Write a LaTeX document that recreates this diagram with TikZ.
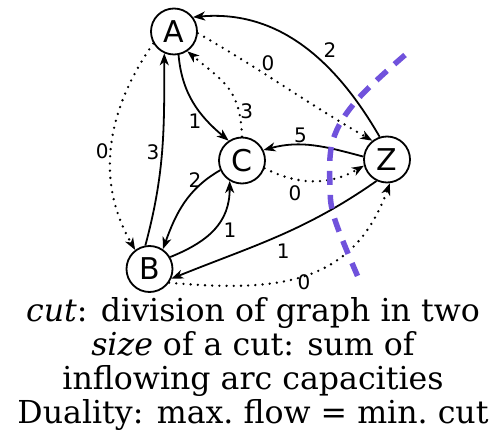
\documentclass[tikz,border=0pt]{standalone}
\usepackage{fontspec}
\setmainfont{DejaVu Serif}
\newfontfamily\lblfont{DejaVu Sans}
\usetikzlibrary{arrows.meta}
\definecolor{cutcol}{HTML}{7052DC}
\begin{document}
\begin{tikzpicture}[x=1pt,y=1pt,
  vert/.style={circle,draw,line width=1.8pt,minimum size=46pt,inner sep=0pt,font=\lblfont\fontsize{30}{30}\selectfont},
  sarc/.style={line width=1.8pt,-{Stealth[length=12pt,width=9pt,inset=3.5pt]}},
  darc/.style={line width=2.6pt,line cap=round,dash pattern=on 0pt off 7.2pt,-{Stealth[length=12pt,width=9pt,inset=3.5pt,line cap=butt,line width=1.8pt]}},
  lbl/.style={font=\lblfont\fontsize{20}{20}\selectfont,inner sep=0pt}]
\useasboundingbox (0,0) rectangle (495,442);
\node[vert] (A) at (174,410.5) {A};
\node[vert] (C) at (242,281.5) {C};
\node[vert] (Z) at (387,282.5) {Z};
\node[vert] (B) at (149.5,173) {B};

\draw[sarc] (Z.108) to[out=120,in=5] (A.37) node[lbl] at (330,392) {2};
\draw[darc] (A.-4) to[out=-30,in=150] (Z.128) node[lbl] at (268,378.7) {0};
\draw[darc] (C.90) to[out=92,in=-40,looseness=1.2] (A.-56) node[lbl] at (246.7,330.3) {3};
\draw[sarc] (A.-79) to[out=-85,in=140] (C.124) node[lbl] at (195,320.3) {1};
\draw[sarc] (B.100) to[out=75,in=-90] (A.-114) node[lbl] at (153,289.5) {3};
\draw[darc] (A.-150) to[out=-125,in=120] (B.127) node[lbl] at (102.3,290.3) {0};
\draw[sarc] (Z.173) to[out=165,in=15] (C.26) node[lbl] at (300.5,306.5) {5};
\draw[darc] (C.-19) to[out=-27,in=-150] (Z.-165) node[lbl] at (295,248.3) {0};
\draw[sarc] (C.-156) to[out=-150,in=70] (B.56) node[lbl] at (195,262) {2};
\draw[sarc] (B.30) to[out=22,in=-90,looseness=1.1] (C.-121) node[lbl] at (230,212) {1};
\draw[sarc] (Z.-116) to[out=-145,in=22] (B.-24) node[lbl] at (283.3,190.3) {1};
\draw[darc] (B.-35) to[out=-5,in=-110,looseness=1.15] (Z.-83) node[lbl] at (304,159.5) {0};

\draw[cutcol,line width=5.5pt,dash pattern=on 14pt off 10pt]
  plot[smooth,tension=0.6] coordinates {(405,387) (357,342) (333,302) (330,255) (335,222) (358,165)};

\node[align=center,anchor=north,inner sep=0pt,font=\fontsize{31.6}{33.7}\selectfont] (T) at (253,144.3)
  {\textit{cut}: division of graph in two\\ \textit{size} of a cut: sum of\\ inflowing arc capacities\\ Duality: max.\ flow = min.\ cut};
\end{tikzpicture}
\end{document}
